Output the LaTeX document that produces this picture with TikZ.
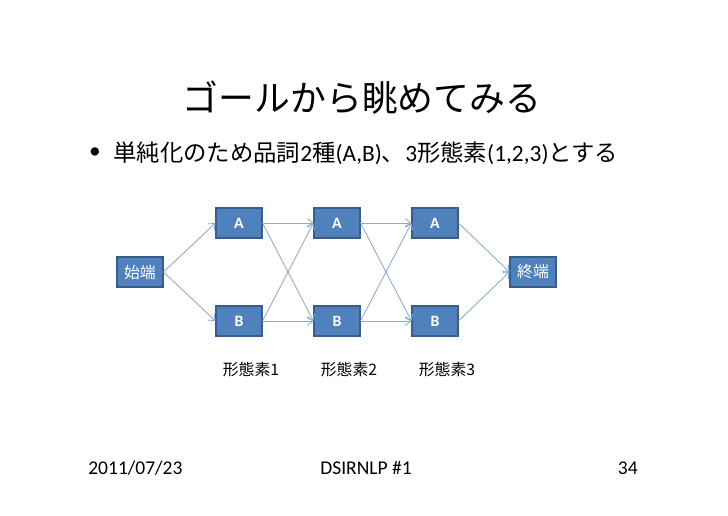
\documentclass[tikz,border=0pt]{standalone}
\usepackage{fontspec}
\setmainfont{Carlito}
\newfontfamily\jp{Noto Sans CJK JP}
\definecolor{boxblue}{RGB}{79,129,189}
\definecolor{boxedge}{RGB}{56,93,138}
\definecolor{linkblue}{RGB}{140,170,210}
\usetikzlibrary{arrows.meta, positioning}

\begin{document}
\begin{tikzpicture}[x=0.02cm, y=-0.02cm,
  box/.style={draw=boxedge, line width=0.6pt, fill=boxblue, text=white, minimum width=0.92cm, minimum height=0.6cm, inner sep=0pt, font=\fontsize{9}{11}\selectfont\bfseries},
  endbox/.style={box, font=\jp\fontsize{9}{11}\selectfont},
  link/.style={draw=linkblue, line width=0.5pt, -{Straight Barb[length=3pt,width=5pt]}}
]
  \useasboundingbox (0,0) rectangle (728,515);

  % Title
  \node[font=\jp\fontsize{20.4}{24}\selectfont] (title) at (362,98) {ゴールから眺めてみる};

  % Bullet
  \node[font=\fontsize{13.3}{16}\selectfont] (dot) at (95,153) {•};
  \node[anchor=west, font=\fontsize{13.3}{16}\selectfont, inner sep=0pt] (bullet) at (113,153)
    {{\jp 単純化のため品詞}2{\jp 種}(A,B){\jp 、}3{\jp 形態素}(1,2,3){\jp とする}};

  % Lattice
  \node[endbox] (start) at (140,272) {始端};
  \node[endbox] (goal) at (533,272) {終端};
  \foreach \i/\x in {1/239, 2/337, 3/435} {
    \node[box] (A\i) at (\x,223) {A};
    \node[box] (B\i) at (\x,321) {B};
    \node[font=\jp\fontsize{9}{11}\selectfont] (m\i) at (\x+12,369) {形態素\i};
  }

  % Arrows
  \draw[link] (start.east) -- (A1.west);
  \draw[link] (start.east) -- (B1.west);
  \foreach \i/\j in {1/2, 2/3} {
    \draw[link] (A\i.east) -- (A\j.west);
    \draw[link] (A\i.east) -- (B\j.west);
    \draw[link] (B\i.east) -- (A\j.west);
    \draw[link] (B\i.east) -- (B\j.west);
  }
  \draw[link] (A3.east) -- (goal.west);
  \draw[link] (B3.east) -- (goal.west);

  % Footer
  \node[anchor=west, font=\fontsize{11.1}{13}\selectfont, inner sep=0pt] (date) at (88,468) {2011/07/23};
  \node[font=\fontsize{11.1}{13}\selectfont, inner sep=0pt] (event) at (366,468) {DSIRNLP \#1};
  \node[anchor=east, font=\fontsize{11.1}{13}\selectfont, inner sep=0pt] (page) at (638,468) {34};
\end{tikzpicture}
\end{document}
